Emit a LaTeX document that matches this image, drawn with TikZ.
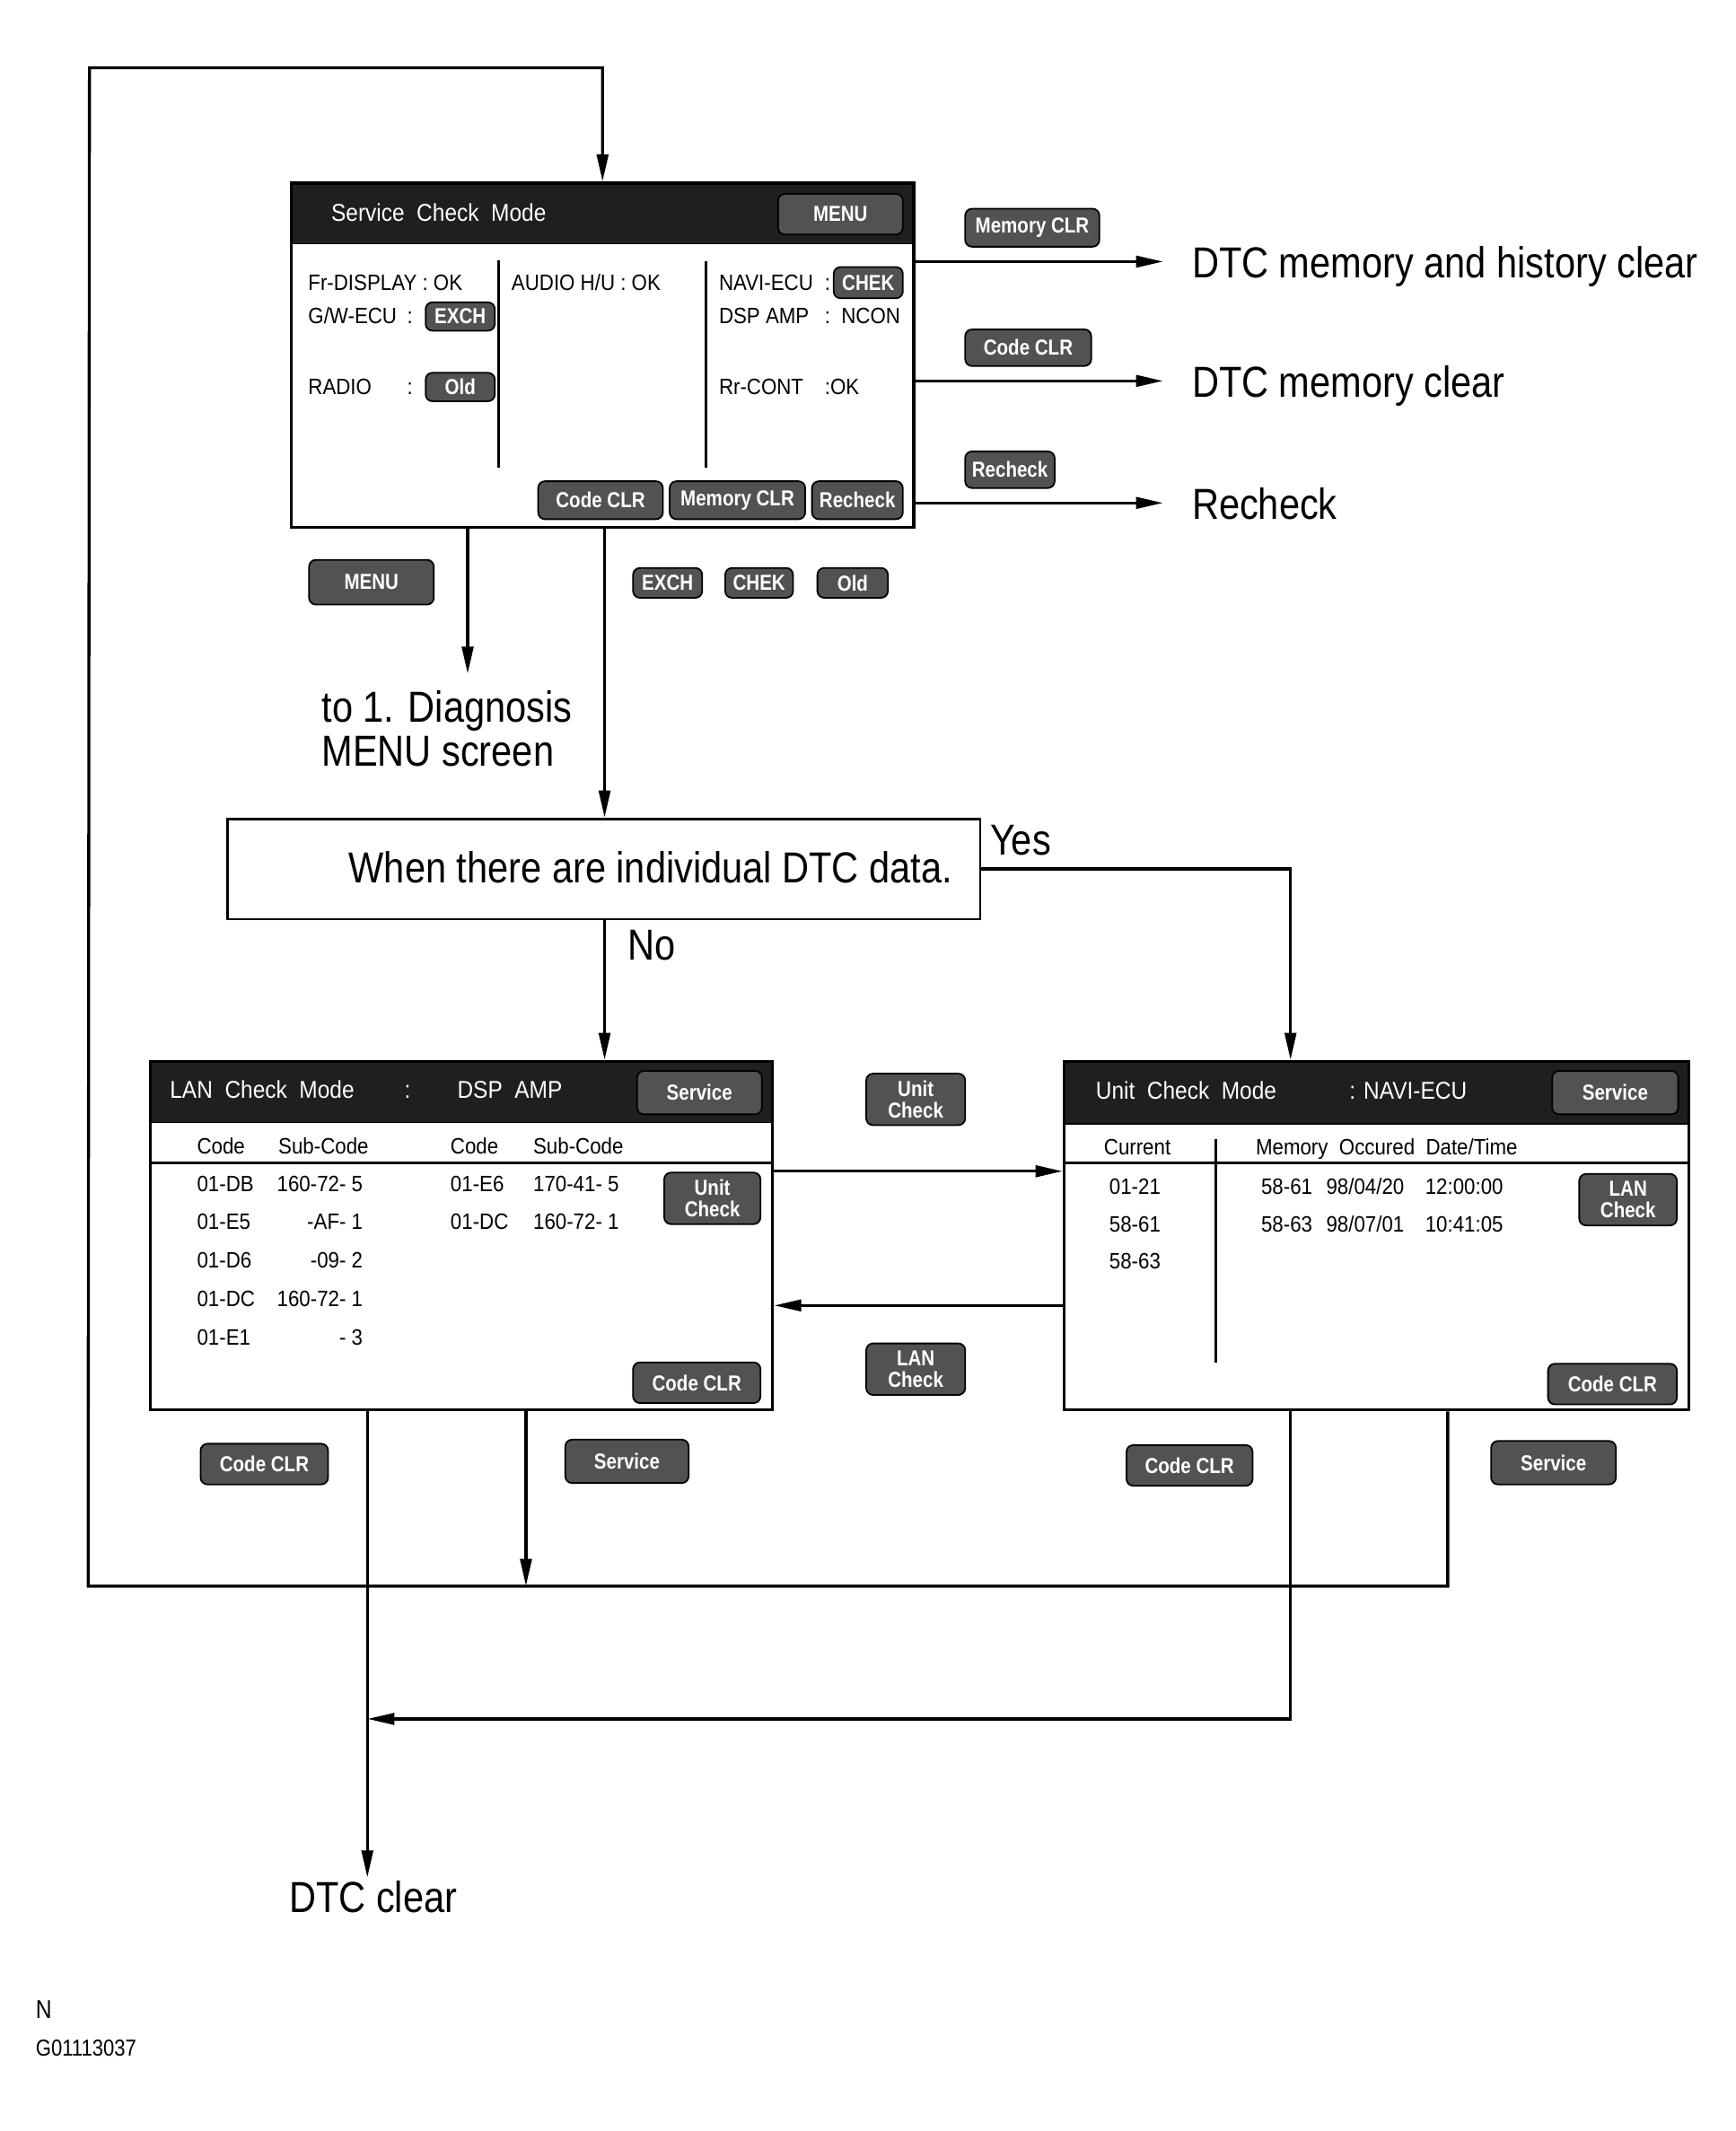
\documentclass[tikz,border=0pt]{standalone}
\usepackage{fontspec}
\setmainfont{Liberation Sans}
\newfontfamily\bigf{Liberation Sans}[FakeStretch=0.86]
\newfontfamily\scrf{Liberation Sans}[FakeStretch=0.9]
\newfontfamily\btnf{Liberation Sans}[FakeStretch=0.85]
\usetikzlibrary{fit,arrows.meta}
\newcommand\bt[6]{\node[btn, minimum width={(#4-#2)*0.5}, minimum height={(#5-#3)*0.5}] (#1) at ({(#2+#4)/2},{(#3+#5)/2}) {#6};}
\begin{document}
\begin{tikzpicture}[x=0.5pt,y=-0.5pt,
  big/.style={font=\bigf\fontsize{16}{19}\selectfont, inner sep=0, anchor=base west},
  small/.style={font=\bigf\fontsize{9.5}{11}\selectfont, inner sep=0, anchor=base west},
  scr/.style={font=\scrf\fontsize{8.2}{10}\selectfont, inner sep=0, anchor=base west},
  scrr/.style={scr, anchor=base east},
  ttl/.style={font=\scrf\fontsize{9}{11}\selectfont, text=white, inner sep=0, anchor=base west},
  btn/.style={fill=black!68, draw=black, line width=0.6pt, rounded corners=2.5pt, text=white,
    font=\btnf\bfseries\fontsize{8}{7.8}\selectfont, inner sep=0, align=center},
  screen/.style={draw, line width=1.1pt, inner sep=0},
  hdr/.style={fill=black!88, draw=black, inner sep=0},
  ln/.style={line width=1.1pt},
  arr/.style={line width=1.1pt, -{Triangle[length=10pt,width=4.2pt]}}
]
\useasboundingbox (0,0) rectangle (1280,1572);

% ---------------- Service Check Mode screen ----------------
\node[hdr, fit={(215,135)(674,180)}] (svchdr) {};
\node[screen, fit={(215,135)(674,389)}] (svc) {};
\node[ttl] (svcttl) at (244,163) {Service\ \ Check\ \ Mode};
\bt{bmenu}{574}{143}{666}{173}{MENU}
\draw[ln] (368,192) -- (368,345);
\draw[ln] (521,193) -- (521,345);
\node[scr] (t1) at (227,214) {Fr-DISPLAY : OK};
\node[scr] (t2) at (227,239) {G/W-ECU};
\node[scr] (t2c) at (300,239) {:};
\bt{bexch}{314}{223}{365}{244}{EXCH}
\node[scr] (t3) at (227,291) {RADIO};
\node[scr] (t3c) at (300,291) {:};
\bt{bold}{314}{275}{365}{296}{Old}
\node[scr] (t4) at (377,214) {AUDIO H/U : OK};
\node[scr] (t5) at (530,214) {NAVI-ECU};
\node[scr] (t5c) at (608,214) {:};
\bt{bchek}{615}{197}{666}{220}{CHEK}
\node[scr] (t6) at (530,239) {DSP AMP};
\node[scr] (t6c) at (608,239) {:\ \ NCON};
\node[scr] (t7) at (530,291) {Rr-CONT};
\node[scr] (t7c) at (608,291) {:OK};
\bt{bcode}{397}{355}{489}{383}{Code CLR}
\bt{bmem}{494}{355}{594}{383}{Memory CLR}
\bt{brec}{599}{355}{666}{383}{Recheck}

% right outputs
\bt{omem}{712}{154}{811}{182}{Memory CLR}
\bt{ocode}{712}{243}{805}{270}{Code CLR}
\bt{orec}{712}{333}{778}{360}{Recheck}
\coordinate (e1) at (858,193);
\coordinate (e2) at (858,281);
\coordinate (e3) at (858,371);
\draw[arr] (svc.east |- e1) -- (e1);
\draw[arr] (svc.east |- e2) -- (e2);
\draw[arr] (svc.east |- e3) -- (e3);
\node[big] (r1) at (879,205) {DTC memory and history clear};
\node[big] (r2) at (879,293) {DTC memory clear};
\node[big] (r3) at (879,383) {Recheck};

% below service screen
\bt{dmenu}{228}{413}{320}{446}{MENU}
\coordinate (m1) at (345,497);
\draw[arr] (svc.south -| m1) -- (m1);
\node[big] (menu1) at (237,533) {to 1. Diagnosis};
\node[big] (menu2) at (237,565) {MENU screen};
\bt{dexch}{467}{419}{518}{441}{EXCH}
\bt{dchek}{535}{419}{585}{441}{CHEK}
\bt{dold}{603}{419}{655}{441}{Old}

% decision
\node[screen, line width=0.9pt, fit={(168,604)(723,678)}] (dec) {};
\node[big] (dectxt) at (257,651) {When there are individual DTC data.};
\node[big] (yes) at (730,631) {Yes};
\node[big] (no) at (463,708) {No};

% ---------------- LAN Check Mode screen ----------------
\node[hdr, fit={(111,783)(570,828)}] (lanhdr) {};
\node[screen, fit={(111,783)(570,1040)}] (lan) {};
\node[ttl] (lanttl) at (125,810) {LAN\ \ Check\ \ Mode};
\node[ttl] (lanc) at (298,810) {:};
\node[ttl] (landsp) at (337,810) {DSP\ \ AMP};
\bt{lserv}{470}{790}{562}{822}{Service}
\draw[ln] (111,858) -- (570,858);
\node[scr] (lh1) at (145,851) {Code};
\node[scr] (lh2) at (205,851) {Sub-Code};
\node[scr] (lh3) at (332,851) {Code};
\node[scr] (lh4) at (393,851) {Sub-Code};
\node[scr] (lc1) at (145,879) {01-DB};
\node[scrr] (ls1) at (268,879) {160-72- 5};
\node[scr] (lc2) at (145,907) {01-E5};
\node[scrr] (ls2) at (268,907) {-AF- 1};
\node[scr] (lc3) at (145,935) {01-D6};
\node[scrr] (ls3) at (268,935) {-09- 2};
\node[scr] (lc4) at (145,964) {01-DC};
\node[scrr] (ls4) at (268,964) {160-72- 1};
\node[scr] (lc5) at (145,992) {01-E1};
\node[scrr] (ls5) at (268,992) {- 3};
\node[scr] (lc6) at (332,879) {01-E6};
\node[scrr] (ls6) at (457,879) {170-41- 5};
\node[scr] (lc7) at (332,907) {01-DC};
\node[scrr] (ls7) at (457,907) {160-72- 1};
\bt{lunit}{490}{865}{561}{903}{Unit\\Check}
\bt{lcode}{467}{1005}{561}{1035}{Code CLR}

% ---------------- Unit Check Mode screen ----------------
\node[hdr, fit={(785,783)(1246,829)}] (unithdr) {};
\node[screen, fit={(785,783)(1246,1040)}] (unit) {};
\node[ttl] (unitttl) at (808,811) {Unit\ \ Check\ \ Mode};
\node[ttl] (unitnavi) at (995,811) {: NAVI-ECU};
\bt{userv}{1145}{790}{1238}{822}{Service}
\draw[ln] (785,858) -- (1246,858);
\draw[ln] (897,840) -- (897,1005);
\node[scr] (uh1) at (814,852) {Current};
\node[scr] (uh2) at (926,852) {Memory\ \ Occured\ \ Date/Time};
\node[scr] (uc1) at (818,881) {01-21};
\node[scr] (uc2) at (818,909) {58-61};
\node[scr] (uc3) at (818,936) {58-63};
\node[scr] (um1) at (930,881) {58-61};
\node[scr] (ud1) at (978,881) {98/04/20};
\node[scr] (ut1) at (1051,881) {12:00:00};
\node[scr] (um2) at (930,909) {58-63};
\node[scr] (ud2) at (978,909) {98/07/01};
\node[scr] (ut2) at (1051,909) {10:41:05};
\bt{ulan}{1165}{866}{1237}{904}{LAN\\Check}
\bt{ucode}{1142}{1006}{1237}{1036}{Code CLR}

% flow connectors
\draw[arr] (svc.south -| 446,0) -- (dec.north -| 446,0);
\draw[arr] (dec.south -| 446,0) -- (lan.north -| 446,0);
\draw[arr] (dec.east) -| (unit.north -| 952,0);
\draw[arr] (lan.east |- 0,864) -- (unit.west |- 0,864);
\draw[arr] (unit.west |- 0,963) -- (lan.east |- 0,963);
\bt{munit}{639}{792}{712}{830}{Unit\\Check}
\bt{mlan}{639}{991}{712}{1029}{LAN\\Check}

% bottom
\bt{bcode1}{148}{1065}{242}{1095}{Code CLR}
\bt{bserv1}{417}{1062}{508}{1094}{Service}
\bt{bcode2}{831}{1066}{924}{1096}{Code CLR}
\bt{bserv2}{1100}{1063}{1192}{1095}{Service}
\coordinate (bl) at (65,1170);
\coordinate (tl) at (66,50);
\coordinate (sv) at (388,1170);
\coordinate (dc) at (271,1385);
\coordinate (cc) at (271,1268);
\draw[arr] (unit.south -| 1068,0) |- (bl) -- (tl) -| (svc.north);
\draw[arr] (lan.south -| sv) -- (sv);
\draw[arr] (lan.south -| dc) -- (dc);
\draw[arr] (unit.south -| 952,0) |- (cc);
\node[big] (dtcclear) at (213,1411) {DTC clear};

\node[small] (nn) at (26,1489) {N};
\node[small, font=\bigf\fontsize{8.5}{10}\selectfont] (gid) at (26,1517) {G01113037};
\end{tikzpicture}
\end{document}
